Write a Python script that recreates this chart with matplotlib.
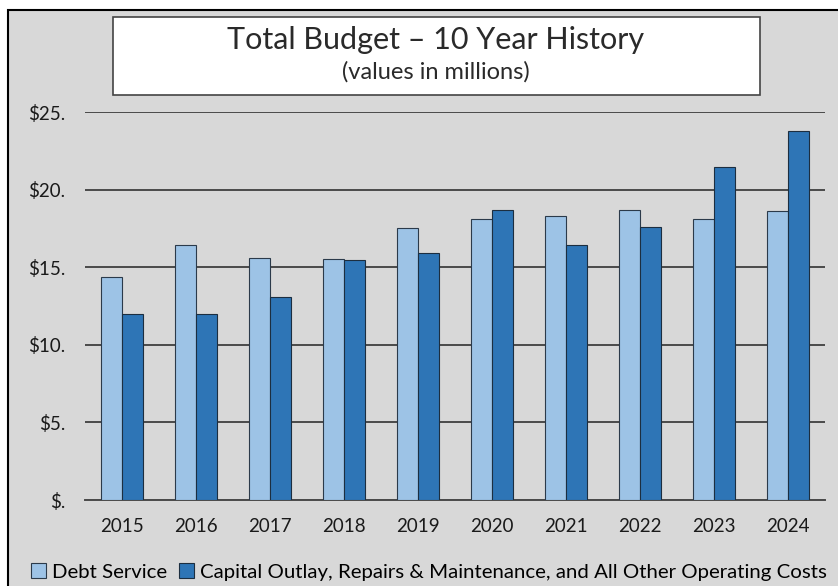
import matplotlib
matplotlib.use("Agg")
import matplotlib.pyplot as plt
import numpy as np
from matplotlib.patches import Rectangle

plt.rcParams['font.family'] = ['Lato', 'DejaVu Sans']

years = ['2015', '2016', '2017', '2018', '2019', '2020', '2021', '2022', '2023', '2024']
debt_service = [14.4, 16.45, 15.6, 15.5, 17.5, 18.1, 18.3, 18.7, 18.1, 18.6]
capital_other = [12.0, 12.0, 13.1, 15.45, 15.9, 18.7, 16.4, 17.6, 21.45, 23.75]
yticks = [0, 5, 10, 15, 20, 25]
ytick_labels = ['$.', '$5.', '$10.', '$15.', '$20.', '$25.']

bg = '#d8d8d8'
light = '#9dc3e6'
dark = '#2e75b6'

fig = plt.figure(figsize=(8.38, 5.86), dpi=100)
fig.patch.set_facecolor('white')

# chart area background with black border (left/top)
W, H = 838, 586
fig.patches.append(Rectangle((8 / W, -0.01), 1.0, (H - 10) / H + 0.01,
                             transform=fig.transFigure, facecolor=bg,
                             edgecolor='black', linewidth=1.5, zorder=-1))

ax = fig.add_axes([85 / W, 86 / H, 740 / W, 388 / H])
ax.set_zorder(1)
ax.set_facecolor('none')

x = np.arange(len(years))
w = 0.283
ax.bar(x - w / 2, debt_service, w, color=light, edgecolor='#2b3a4a',
       linewidth=0.8, label='Debt Service', zorder=3)
ax.bar(x + w / 2, capital_other, w, color=dark, edgecolor='#1c2e40',
       linewidth=0.8,
       label='Capital Outlay, Repairs & Maintenance, and All Other Operating Costs',
       zorder=3)

ax.set_xlim(-0.5, len(years) - 0.5)
ax.set_ylim(0, 25)
ax.set_yticks(yticks)
ax.set_yticklabels(ytick_labels)
ax.set_xticks(x)
ax.set_xticklabels(years)
ax.yaxis.grid(True, color='#4a4a4a', linewidth=1.4, zorder=1)
ax.set_axisbelow(True)
for s in ['top', 'right', 'left']:
    ax.spines[s].set_visible(False)
ax.spines['bottom'].set_color('#4a4a4a')
ax.spines['bottom'].set_linewidth(1.4)
ax.tick_params(axis='both', length=0, labelsize=13.5, colors='#1a1a1a')
ax.tick_params(axis='y', pad=14)
ax.tick_params(axis='x', pad=13)

# title box
fig.patches.append(Rectangle((113 / W, 1 - 95 / H), (760 - 113) / W, 78 / H,
                             transform=fig.transFigure, facecolor='white',
                             edgecolor='#444444', linewidth=1.2, zorder=2))
fig.text(436 / W, 1 - 40 / H, 'Total Budget \u2013 10 Year History',
         ha='center', va='center', fontsize=22, color='#2a2a2a', zorder=3)
fig.text(436 / W, 1 - 72 / H, '(values in millions)',
         ha='center', va='center', fontsize=17, color='#2a2a2a', zorder=3)

fig.legend(loc='center', bbox_to_anchor=(429 / W, 1 - 572 / H), ncol=2,
           frameon=False, fontsize=14.7, handlelength=0.7, handleheight=0.7,
           handletextpad=0.3, columnspacing=0.6, borderaxespad=0)

fig.savefig('out.png', dpi=100)
